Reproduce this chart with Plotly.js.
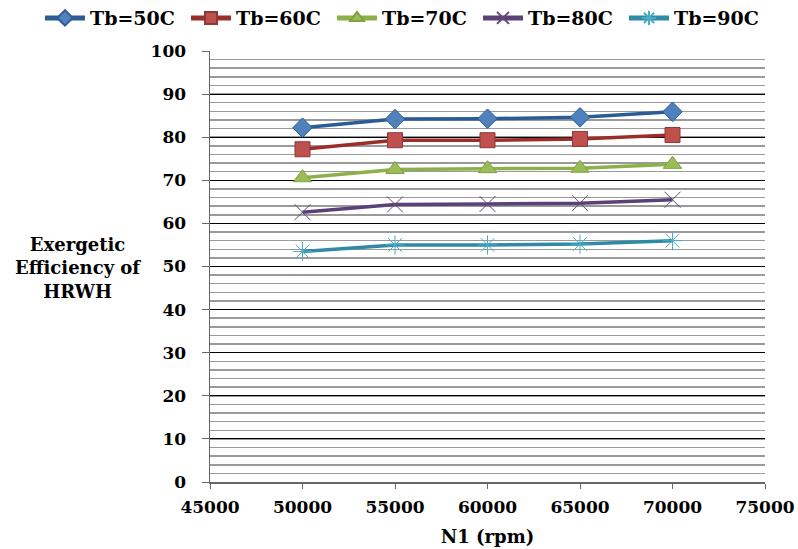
<!DOCTYPE html>
<html>
<head>
<meta charset="utf-8">
<script src="https://cdn.plot.ly/plotly-3.0.1.min.js"></script>
<style>html,body{margin:0;padding:0;background:#fff;}#chart{width:798px;height:549px;}</style>
</head>
<body>
<div id="chart"></div>
<script>
const rpm = [50000, 55000, 60000, 65000, 70000];
const seriesNames = ["Tb=50C", "Tb=60C", "Tb=70C", "Tb=80C", "Tb=90C"];
const tb50 = [82.2, 84.2, 84.3, 84.6, 85.9];
const tb60 = [77.2, 79.3, 79.3, 79.6, 80.5];
const tb70 = [70.6, 72.5, 72.7, 72.8, 73.7];
const tb80 = [62.6, 64.4, 64.5, 64.7, 65.5];
const tb90 = [53.5, 55.0, 55.0, 55.2, 56.0];
const xTicks = [45000, 50000, 55000, 60000, 65000, 70000, 75000];
const yTicks = [0, 10, 20, 30, 40, 50, 60, 70, 80, 90, 100];

const font = "'DejaVu Serif', serif";
const styles = [
  {line:'#2C5C96', marker:{symbol:'diamond', size:15, color:'#4F81BD', line:{color:'#2C5C96', width:1}}},
  {line:'#9B2D2A', marker:{symbol:'square', size:15, color:'#C0504D', line:{color:'#8C3836', width:1}}},
  {line:'#8DB04A', marker:{symbol:'triangle-up', size:16, color:'#9BBB59', line:{color:'#7FA13F', width:1}}},
  {line:'#5A4278', marker:{symbol:'x-thin-open', size:16, color:'#604A7B', line:{color:'#604A7B', width:1}}},
  {line:'#2E8AA5', marker:{symbol:'asterisk-open', size:16, color:'#4BACC6', line:{color:'#3A8FA8', width:1}}}
];
const data = [tb50, tb60, tb70, tb80, tb90].map((ys, i) => ({
  x: rpm, y: ys, name: seriesNames[i], type: 'scatter', mode: 'lines+markers',
  line: {color: styles[i].line, width: 3.5},
  marker: styles[i].marker
}));

const layout = {
  width: 798, height: 549,
  margin: {l: 210, r: 33, t: 51, b: 66.5, autoexpand: false},
  paper_bgcolor: '#fff', plot_bgcolor: '#fff',
  font: {family: font, size: 17, color: '#000', weight: 'bold'},
  showlegend: true,
  legend: {orientation: 'h', xref: 'paper', yref: 'paper', x: -0.3063, xanchor: 'left',
    y: 1.0765, yanchor: 'middle', itemsizing: 'constant',
    font: {family: font, size: 19, color: '#000', weight: 'bold'}, itemwidth: 40, entrywidth: 91, tracegroupgap: 0},
  xaxis: {
    range: [45000, 75000], tickvals: xTicks, ticktext: xTicks.map(String),
    showgrid: false, zeroline: false, showline: true, linecolor: '#666', linewidth: 1.5,
    ticks: 'outside', ticklen: 5, tickcolor: '#666', ticklabelstandoff: 4,
    tickfont: {family: font, size: 17, color: '#000', weight: 'bold'},
    title: {text: 'N1 (rpm)', font: {family: font, size: 18, color: '#000', weight: 'bold'}, standoff: 14}
  },
  yaxis: {
    range: [0, 100], tickvals: yTicks, ticktext: yTicks.map(String),
    showgrid: true, gridcolor: '#000', gridwidth: 1,
    minor: {dtick: 2, showgrid: true, gridcolor: '#9a9a9a', gridwidth: 1.5, ticks: ''},
    zeroline: false, showline: true, linecolor: '#666', linewidth: 1.5,
    ticks: 'outside', ticklen: 7, tickcolor: '#666', ticklabelstandoff: 12,
    tickfont: {family: font, size: 17, color: '#000', weight: 'bold'}
  },
  annotations: [{
    text: 'Exergetic<br>Efficiency of<br>HRWH', xref: 'paper', yref: 'paper',
    x: -0.2378, y: 0.497, xanchor: 'center', yanchor: 'middle', showarrow: false, align: 'center',
    font: {family: font, size: 18, color: '#000', weight: 'bold'}
  }]
};
Plotly.newPlot('chart', data, layout, {displayModeBar: false, staticPlot: true});
</script>
</body>
</html>
